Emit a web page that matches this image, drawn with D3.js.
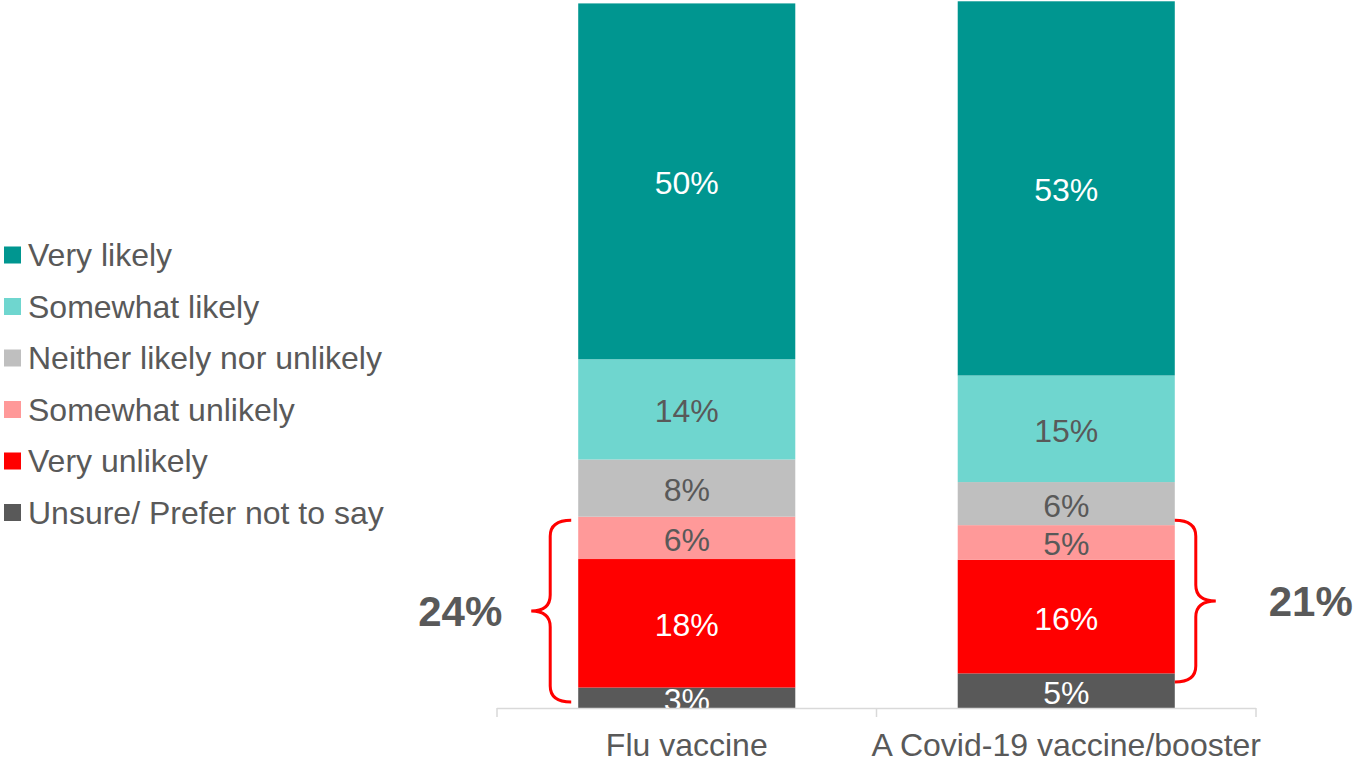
<!DOCTYPE html>
<html>
<head>
<meta charset="utf-8">
<script src="https://cdn.jsdelivr.net/npm/d3@7"></script>
<style>
  html, body { margin: 0; padding: 0; background: #fff; }
  svg { display: block; font-family: Arial, "Liberation Sans", Helvetica, sans-serif; }
</style>
</head>
<body>
<svg id="chart" width="1354" height="762"></svg>
<script>
// ---- data ----
const categories = ["Flu vaccine", "A Covid-19 vaccine/booster"];
const seriesNames = ["Unsure/ Prefer not to say", "Very unlikely", "Somewhat unlikely",
                     "Neither likely nor unlikely", "Somewhat likely", "Very likely"];
const fluValues   = [2.9, 18.2, 6.0, 8.1, 14.2, 50.4];
const covidValues = [4.9, 16.1, 4.9, 6.1, 15.1, 53.0];
const seriesColors = ["#595959", "#ff0000", "#ff9999", "#bfbfbf", "#6fd6cf", "#009690"];
const labelColors  = ["#ffffff", "#ffffff", "#595959", "#595959", "#595959", "#ffffff"];
const legendOrder = ["Very likely", "Somewhat likely", "Neither likely nor unlikely",
                     "Somewhat unlikely", "Very unlikely", "Unsure/ Prefer not to say"];
// net "unlikely" annotations (label, brace span in % units, side)
const netLabels = ["24%", "21%"];
const braceSpans = [[0.85, 26.6], [3.7, 26.6]];
const braceSides = ["left", "right"];
const yDomain = [0, 100];

// ---- layout ----
const svg = d3.select("#chart");
const plot = { left: 497, right: 1256, top: 2, bottom: 708 };
const textColor = "#595959";
const fontSize = 32;

const x = d3.scaleBand().domain(categories).range([plot.left, plot.right])
  .paddingInner(0.428).paddingOuter(0.214);
const y = d3.scaleLinear().domain(yDomain).range([plot.bottom, plot.top]);

const table = categories.map((c, i) => {
  const row = { category: c };
  const vals = i === 0 ? fluValues : covidValues;
  seriesNames.forEach((s, j) => row[s] = vals[j]);
  return row;
});
const stacked = d3.stack().keys(seriesNames)(table);

svg.append("defs").append("clipPath").attr("id", "plotclip")
  .append("rect").attr("x", 0).attr("y", 0).attr("width", 1354).attr("height", plot.bottom);

// bars
const layers = svg.append("g").selectAll("g").data(stacked).join("g")
  .attr("fill", (d, i) => seriesColors[i]);
layers.selectAll("rect").data(d => d).join("rect")
  .attr("x", d => x(d.data.category))
  .attr("width", x.bandwidth())
  .attr("y", d => y(d[1]))
  .attr("height", d => y(d[0]) - y(d[1]));

// data labels
const lab = svg.append("g").attr("clip-path", "url(#plotclip)");
stacked.forEach((layer, i) => {
  lab.selectAll(null).data(layer).join("text")
    .attr("x", d => x(d.data.category) + x.bandwidth() / 2)
    .attr("y", d => (y(d[0]) + y(d[1])) / 2 + 2)
    .attr("text-anchor", "middle")
    .attr("dominant-baseline", "central")
    .attr("font-size", fontSize)
    .attr("fill", labelColors[i])
    .text(d => Math.round(d[1] - d[0]) + "%");
});

// x axis
const axisG = svg.append("g").attr("transform", `translate(0,${plot.bottom})`);
axisG.append("line").attr("x1", plot.left).attr("x2", plot.right)
  .attr("y1", 0.5).attr("y2", 0.5).attr("stroke", "#d9d9d9").attr("stroke-width", 1.5);
const step = x.step();
const ticks = [plot.left].concat(categories.map(c => x(c) + x.bandwidth() + (step - x.bandwidth()) / 2));
axisG.selectAll("line.tick").data(ticks).join("line").attr("class", "tick")
  .attr("x1", d => d).attr("x2", d => d).attr("y1", 0).attr("y2", 9)
  .attr("stroke", "#d9d9d9").attr("stroke-width", 1.5);
axisG.selectAll("text").data(categories).join("text")
  .attr("x", d => x(d) + x.bandwidth() / 2)
  .attr("y", 48)
  .attr("text-anchor", "middle")
  .attr("font-size", fontSize)
  .attr("fill", textColor)
  .text(d => d);

// braces
function bracePath(xEnd, xMid, xTip, top, bot) {
  const tip = (top + bot) / 2, r = 16;
  return `M${xEnd},${top} Q${xMid},${top} ${xMid},${top + r} L${xMid},${tip - r} ` +
         `Q${xMid},${tip} ${xTip},${tip} Q${xMid},${tip} ${xMid},${tip + r} ` +
         `L${xMid},${bot - r} Q${xMid},${bot} ${xEnd},${bot}`;
}
categories.forEach((c, i) => {
  const top = y(braceSpans[i][1]), bot = y(braceSpans[i][0]);
  let xEnd, xMid, xTip, tx;
  if (braceSides[i] === "left") {
    xEnd = x(c) - 7; xMid = xEnd - 21; xTip = xEnd - 40; tx = xTip - 71;
  } else {
    xEnd = x(c) + x.bandwidth(); xMid = xEnd + 21; xTip = xEnd + 41; tx = xTip + 95;
  }
  svg.append("path").attr("d", bracePath(xEnd, xMid, xTip, top, bot))
    .attr("fill", "none").attr("stroke", "#ff0000").attr("stroke-width", 3);
  svg.append("text").attr("x", tx).attr("y", (top + bot) / 2)
    .attr("text-anchor", "middle").attr("dominant-baseline", "central")
    .attr("font-size", 42).attr("font-weight", "bold").attr("fill", textColor)
    .text(netLabels[i]);
});

// legend
const legend = svg.append("g");
legendOrder.forEach((name, i) => {
  const cy = 255 + i * 51.5;
  const idx = seriesNames.indexOf(name);
  legend.append("rect").attr("x", 4).attr("y", cy - 8.5).attr("width", 17).attr("height", 17)
    .attr("fill", seriesColors[idx]);
  legend.append("text").attr("x", 28).attr("y", cy)
    .attr("dominant-baseline", "central")
    .attr("font-size", fontSize).attr("fill", textColor).text(name);
});
</script>
</body>
</html>
